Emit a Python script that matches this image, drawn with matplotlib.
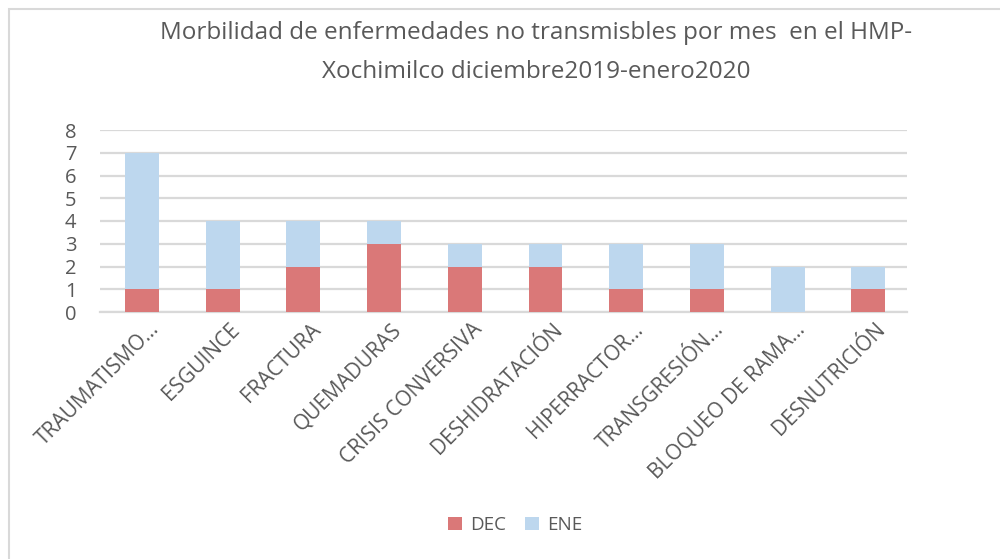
import matplotlib as mpl
import matplotlib.pyplot as plt
import numpy as np
from matplotlib.patches import Rectangle

mpl.rcParams.update({
    "font.family": ["Open Sans", "DejaVu Sans"],
    "text.color": "#595959",
    "xtick.color": "#595959",
    "ytick.color": "#595959",
})

# data
categories = ["TRAUMATISMO…", "ESGUINCE", "FRACTURA", "QUEMADURAS",
              "CRISIS CONVERSIVA", "DESHIDRATACIÓN", "HIPERRACTOR…",
              "TRANSGRESIÓN…", "BLOQUEO DE RAMA…", "DESNUTRICIÓN"]
dec = [1, 1, 2, 3, 2, 2, 1, 1, 0, 1]
ene = [6, 3, 2, 1, 1, 1, 2, 2, 2, 1]
yticks = [0, 1, 2, 3, 4, 5, 6, 7, 8]

title = ("Morbilidad de enfermedades no transmisbles por mes  en el HMP-\n"
         "Xochimilco diciembre2019-enero2020")

c_dec = "#DA7878"
c_ene = "#BDD7EE"

fig = plt.figure(figsize=(10, 5.59), dpi=100)
ax = fig.add_axes([0.100, 1 - 312 / 559, 0.807, 182 / 559])

x = np.arange(len(categories))
ax.bar(x + 0.02, dec, width=0.42, color=c_dec, label="DEC", zorder=3)
ax.bar(x + 0.02, ene, width=0.42, bottom=dec, color=c_ene, label="ENE", zorder=3)

ax.set_xlim(-0.5, len(categories) - 0.5)
ax.set_ylim(0, 8)
ax.set_yticks(yticks)
ax.yaxis.grid(True, color="#D9D9D9", linewidth=1.6, zorder=0)
for s in ["top", "right", "left"]:
    ax.spines[s].set_visible(False)
ax.spines["bottom"].set_color("#D9D9D9")
ax.spines["bottom"].set_linewidth(1.6)
ax.tick_params(axis="y", length=0, labelsize=14.5, pad=17)
ax.tick_params(axis="x", length=0)

ax.set_xticks(x)
ax.set_xticklabels([])
for xi, lab in zip(x, categories):
    ax.annotate(lab, xy=(xi, 0), xycoords=("data", "axes fraction"),
                xytext=(6, -5), textcoords="offset points",
                rotation=45, rotation_mode="anchor", ha="right", va="top",
                fontsize=15, color="#595959")

fig.text(0.536, 0.962, title, ha="center", va="top", fontsize=17.5,
         linespacing=1.8, color="#595959")

ax.legend(loc="center", bbox_to_anchor=(0.515, 1 - 525 / 559), bbox_transform=fig.transFigure,
          ncol=2, frameon=False, fontsize=13.5, handlelength=0.75, handleheight=0.75,
          columnspacing=1.0, handletextpad=0.45)

fig.patches.append(Rectangle((9 / 1000, -0.1), 1.2, 1 - 9 / 559 + 0.1,
                             transform=fig.transFigure, fill=False,
                             edgecolor="#D9D9D9", linewidth=1.5))

fig.savefig("out.png", dpi=100, facecolor="white")
